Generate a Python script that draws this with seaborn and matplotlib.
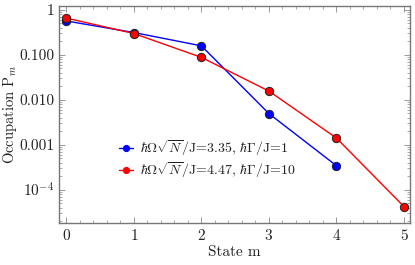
import pandas as pd
import seaborn as sns
import matplotlib.pyplot as plt
from matplotlib.ticker import FixedLocator, FixedFormatter, MultipleLocator, LogLocator, NullFormatter

# data
states = [0, 1, 2, 3, 4, 5]
p_blue = [0.56, 0.31, 0.157, 0.0049, 0.00034]
p_red = [0.65, 0.295, 0.087, 0.0155, 0.0014, 0.000042]
label_blue = r"$\hbar\Omega\sqrt{N}$/J=3.35, $\hbar\Gamma$/J=1"
label_red = r"$\hbar\Omega\sqrt{N}$/J=4.47, $\hbar\Gamma$/J=10"
ytick_vals = [1, 0.1, 0.01, 0.001, 0.0001]
ytick_labels = ["1", "0.100", "0.010", "0.001", r"$10^{-4}$"]

sns.set_style("ticks")
plt.rcParams['font.family'] = 'serif'
plt.rcParams['font.serif'] = ['cmr10', 'DejaVu Serif']
plt.rcParams['mathtext.fontset'] = 'cm'
plt.rcParams['axes.formatter.use_mathtext'] = True

blue_df = pd.DataFrame({'m': states[:len(p_blue)], 'P': p_blue})
red_df = pd.DataFrame({'m': states, 'P': p_red})

fig = plt.figure(figsize=(4.15, 2.65), dpi=100)
ax = fig.add_axes([0.142, 0.158, 0.846, 0.819])

sns.lineplot(data=blue_df, x='m', y='P', ax=ax, color='#0000ff', lw=1.0,
             marker='o', markersize=6, markeredgecolor='#222222', markeredgewidth=0.7,
             label=label_blue)
sns.lineplot(data=red_df, x='m', y='P', ax=ax, color='#ff0000', lw=1.0,
             marker='o', markersize=6, markeredgecolor='#222222', markeredgewidth=0.7,
             label=label_red)

ax.set_yscale('log')
ax.set_ylim(1.8e-5, 1.2)
ax.set_xlim(-0.11, 5.09)
ax.yaxis.set_major_locator(FixedLocator(ytick_vals))
ax.yaxis.set_major_formatter(FixedFormatter(ytick_labels))
ax.yaxis.set_minor_locator(LogLocator(base=10, subs=range(2, 10)))
ax.yaxis.set_minor_formatter(NullFormatter())
ax.xaxis.set_major_locator(MultipleLocator(1))
ax.xaxis.set_minor_locator(MultipleLocator(0.2))

for s in ax.spines.values():
    s.set_color('#777777')
    s.set_linewidth(1.0)
ax.tick_params(which='both', direction='in', top=True, right=True, color='#888888',
               labelsize=11, labelcolor='#222222')
ax.tick_params(which='major', length=4, width=0.6)
ax.tick_params(which='minor', length=2, width=0.5)

ax.set_xlabel('State m', fontsize=11, color='#222222', labelpad=2)
ax.set_ylabel(r'Occupation P$_m$', fontsize=10.5, color='#222222')
ax.yaxis.set_label_coords(-0.113, 0.5)

leg = ax.legend(loc='center left', bbox_to_anchor=(0.135, 0.295), frameon=False,
                fontsize=10, handlelength=1.0, handletextpad=0.5, labelspacing=0.2,
                markerscale=0.75)
for t in leg.get_texts():
    t.set_color('#222222')
for h in leg.legend_handles:
    h.set_markeredgecolor(h.get_color())

fig.savefig('out.png', dpi=100)
